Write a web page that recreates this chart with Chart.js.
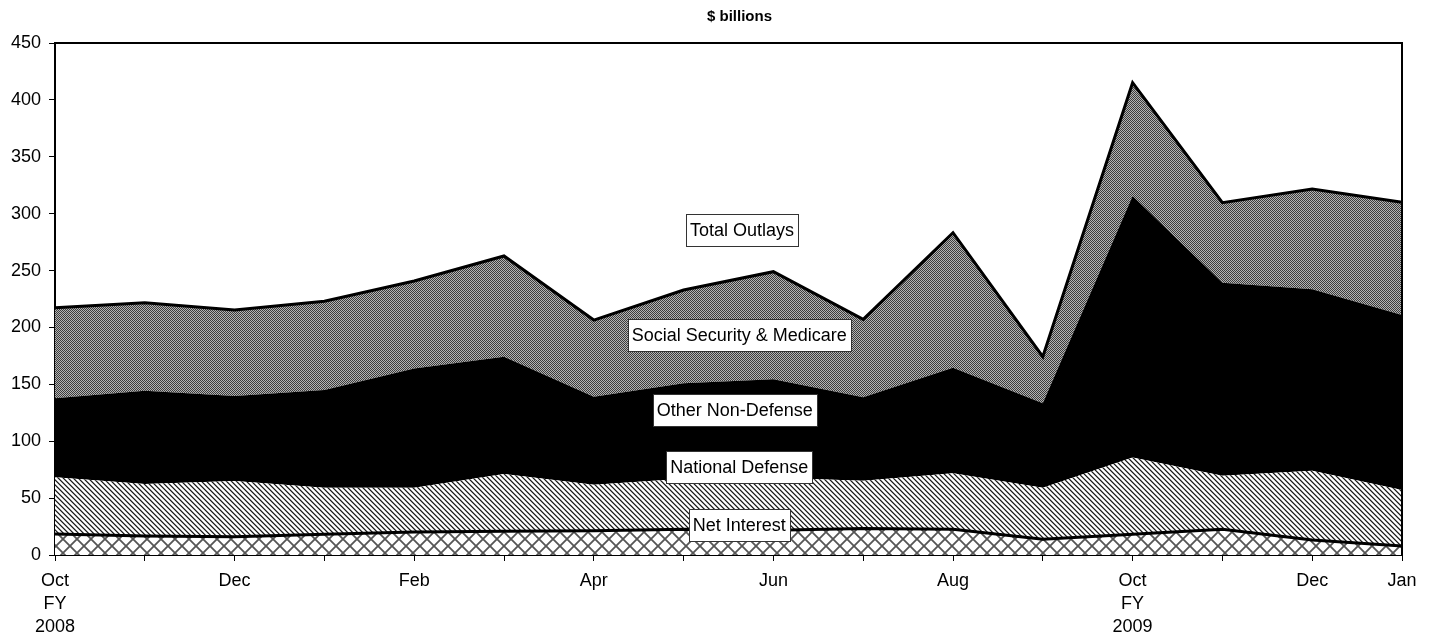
<!DOCTYPE html>
<html><head><meta charset="utf-8">
<script src="https://cdn.jsdelivr.net/npm/chart.js@4/dist/chart.umd.min.js"></script>
<style>html,body{margin:0;padding:0;background:#fff;overflow:hidden;}</style>
</head><body>
<canvas id="c" width="1435" height="641"></canvas>
<script>
// ---- data (values in $ billions) ----
const categories = [['Oct','FY','2008'],'','Dec','','Feb','','Apr','','Jun','','Aug','',['Oct','FY','2009'],'','Dec','Jan'];
const netInterest   = [18.5, 16.7, 16.1, 18.2, 20.2, 20.8, 21.4, 22.6, 21.8, 23.4, 22.6, 13.8, 18.2, 22.6, 13.2, 7.9];
const nationalDefense = [49.8, 45.7, 48.9, 41.0, 39.0, 50.4, 40.4, 44.4, 46.2, 41.9, 49.2, 45.4, 67.6, 47.1, 60.9, 49.2];
const otherNonDefense = [69.4, 82.0, 74.7, 85.8, 104.8, 103.1, 77.2, 83.9, 86.4, 73.3, 92.8, 74.1, 229.8, 169.6, 159.4, 153.8];
const socialSecMedicare = [79.7, 77.4, 75.6, 78.0, 76.8, 88.5, 67.5, 82.0, 94.6, 68.5, 118.7, 41.0, 99.5, 70.3, 88.2, 99.1];
const yTicks = [0, 50, 100, 150, 200, 250, 300, 350, 400, 450];
const titleText = '$ billions';
// annotation labels: text, x (category index), y (value)
const noteTexts = ['Total Outlays', 'Social Security & Medicare', 'Other Non-Defense', 'National Defense', 'Net Interest'];
const noteX = [7.65, 7.62, 7.57, 7.62, 7.62];
const noteY = [285.5, 193.5, 127.5, 77.3, 26.4];

const FONT = "'Liberation Sans', Arial, sans-serif";

function makePattern(w, h, painter) {
  const cv = document.createElement('canvas');
  cv.width = w; cv.height = h;
  const g = cv.getContext('2d');
  painter(g, w, h);
  return g.createPattern(cv, 'repeat');
}
const ctx0 = document.getElementById('c').getContext('2d');

// fine dotted gray (Social Security & Medicare)
const dotPattern = makePattern(2, 2, (g) => {
  g.fillStyle = '#b4b4b4'; g.fillRect(0, 0, 2, 2);
  g.fillStyle = '#3c3c3c'; g.fillRect(0, 0, 1, 1); g.fillRect(1, 1, 1, 1);
});
// diagonal stripes (National Defense)
const stripePattern = makePattern(5, 5, (g) => {
  const img = g.createImageData(5, 5);
  const shades = [30, 130, 255, 255, 200];
  for (let y = 0; y < 5; y++) for (let x = 0; x < 5; x++) {
    const d = ((x - y) % 5 + 5) % 5;
    const v = shades[d];
    const i = (y * 5 + x) * 4;
    img.data[i] = v; img.data[i+1] = v; img.data[i+2] = v; img.data[i+3] = 255;
  }
  g.putImageData(img, 0, 0);
});
// diamond crosshatch (Net Interest)
const crossPattern = makePattern(14, 14, (g, w, h) => {
  g.fillStyle = '#ffffff'; g.fillRect(0, 0, w, h);
  g.strokeStyle = '#555555'; g.lineWidth = 1.8;
  g.beginPath();
  g.moveTo(-2, -2); g.lineTo(w + 2, h + 2);
  g.moveTo(w + 2, -2); g.lineTo(-2, h + 2);
  g.stroke();
});

const framePlugin = {
  id: 'frame',
  afterDatasetsDraw(chart) {
    const { ctx, chartArea: a } = chart;
    ctx.save();
    ctx.strokeStyle = '#000'; ctx.lineWidth = 2;
    ctx.beginPath();
    ctx.moveTo(a.left, a.top); ctx.lineTo(a.right, a.top); ctx.lineTo(a.right, a.bottom);
    ctx.stroke();
    ctx.restore();
  },
  afterDraw(chart) {
    const { ctx, chartArea: a, scales } = chart;
    ctx.save();
    // title
    ctx.fillStyle = '#000';
    ctx.font = 'bold 15px ' + FONT;
    ctx.textAlign = 'center'; ctx.textBaseline = 'middle';
    ctx.fillText(titleText, (a.left + a.right) / 2 + 11, 17);
    // annotation boxes
    ctx.font = '18px ' + FONT;
    noteTexts.forEach((t, i) => {
      const x = scales.x.getPixelForValue(noteX[i]);
      const y = scales.y.getPixelForValue(noteY[i]);
      const w = ctx.measureText(t).width + 8;
      const h = 32;
      ctx.fillStyle = '#fff';
      ctx.fillRect(Math.round(x - w / 2) + 0.5, Math.round(y - h / 2) + 0.5, Math.round(w), h);
      ctx.strokeStyle = '#333'; ctx.lineWidth = 1;
      ctx.strokeRect(Math.round(x - w / 2) + 0.5, Math.round(y - h / 2) + 0.5, Math.round(w), h);
      ctx.fillStyle = '#000';
      ctx.fillText(t, x, y + 1);
    });
    ctx.restore();
  }
};

new Chart(ctx0, {
  type: 'line',
  data: {
    labels: categories,
    datasets: [
      { label: 'Net Interest', data: netInterest, fill: 'origin', backgroundColor: crossPattern,
        borderColor: '#000', borderWidth: 3 },
      { label: 'National Defense', data: nationalDefense, fill: '-1', backgroundColor: stripePattern,
        borderColor: 'rgba(0,0,0,0)', borderWidth: 0 },
      { label: 'Other Non-Defense', data: otherNonDefense, fill: '-1', backgroundColor: '#000',
        borderColor: '#000', borderWidth: 0 },
      { label: 'Social Security & Medicare', data: socialSecMedicare, fill: '-1', backgroundColor: dotPattern,
        borderColor: '#000', borderWidth: 3 }
    ]
  },
  options: {
    responsive: false,
    animation: false,
    events: [],
    layout: { padding: { top: 43, right: 33, left: 0, bottom: 0 } },
    elements: { point: { radius: 0 }, line: { tension: 0, borderJoinStyle: 'miter' } },
    plugins: { legend: { display: false }, tooltip: { enabled: false }, title: { display: false } },
    scales: {
      x: {
        type: 'category',
        offset: false,
        border: { display: true, color: '#000', width: 2 },
        grid: { display: true, drawOnChartArea: false, drawTicks: true, tickLength: 6, color: '#000', lineWidth: 1 },
        ticks: { autoSkip: false, maxRotation: 0, minRotation: 0, padding: 8, color: '#000',
                 font: { family: FONT, size: 18, lineHeight: 1.3 } },
        afterFit(s) { s.height = 86; }
      },
      y: {
        stacked: true,
        min: 0, max: 450,
        border: { display: true, color: '#000', width: 2 },
        grid: { display: true, drawOnChartArea: false, drawTicks: true, tickLength: 6, color: '#000', lineWidth: 1 },
        afterBuildTicks(s) { s.ticks = yTicks.map(v => ({ value: v })); },
        ticks: { padding: 8, color: '#000', font: { family: FONT, size: 18 } },
        afterFit(s) { s.width = 55; }
      }
    }
  },
  plugins: [framePlugin]
});
</script>
</body></html>
